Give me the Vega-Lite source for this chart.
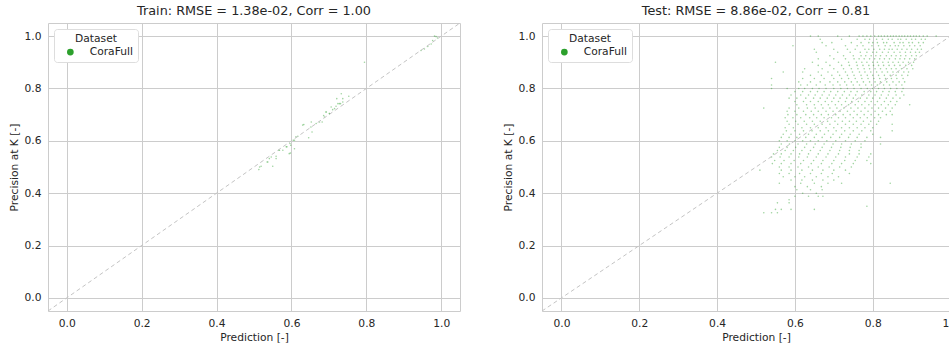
{
"$schema": "https://vega.github.io/schema/vega-lite/v6.json",
"padding": {"left": 7, "top": 4, "right": 0, "bottom": 0},
"background": "white",
"config": {
  "font": "DejaVu Sans",
  "view": {"stroke": "#cccccc", "strokeWidth": 1},
  "axis": {"grid": true, "gridColor": "#cccccc", "gridWidth": 1, "domain": false, "ticks": false, "labelFont": "DejaVu Sans", "labelFontSize": 10.7, "labelColor": "#262626", "titleFont": "DejaVu Sans", "titleFontSize": 10.7, "titleFontWeight": "normal", "titleColor": "#262626", "labelPadding": 7, "titlePadding": 5},
  "title": {"font": "DejaVu Sans", "fontSize": 12.8, "fontWeight": "normal", "color": "#262626", "offset": 5},
  "legend": {"orient": "top-left", "offset": 6, "strokeColor": "#dddddd", "fillColor": "white", "padding": 5, "cornerRadius": 3, "titleFont": "DejaVu Sans", "labelFont": "DejaVu Sans", "titleFontWeight": "normal", "titleFontSize": 10.7, "labelFontSize": 10.7, "titleColor": "#262626", "labelColor": "#262626", "symbolType": "circle", "symbolSize": 45, "symbolOpacity": 1, "titleAnchor": "middle", "labelOffset": 14, "symbolOffset": 6, "titlePadding": 2},
  "concat": {"spacing": 40}
},
"resolve": {"scale": {"color": "independent"}, "legend": {"color": "independent"}},
"hconcat": [
{
  "width": 412, "height": 288,
  "title": "Train: RMSE = 1.38e-02, Corr = 1.00",
  "layer": [
    {
      "data": {"values": [
{"x":0.513,"y":0.49},{"x":0.515,"y":0.5},{"x":0.519,"y":0.503},{"x":0.535,"y":0.519},{"x":0.537,"y":0.519},{"x":0.541,"y":0.532},{"x":0.546,"y":0.538},{"x":0.55,"y":0.503},{"x":0.559,"y":0.541},{"x":0.559,"y":0.532},{"x":0.566,"y":0.564},{"x":0.568,"y":0.564},{"x":0.577,"y":0.564},{"x":0.586,"y":0.577},{"x":0.588,"y":0.577},{"x":0.594,"y":0.551},{"x":0.597,"y":0.553},{"x":0.596,"y":0.59},{"x":0.598,"y":0.583},{"x":0.605,"y":0.602},{"x":0.608,"y":0.57},{"x":0.608,"y":0.602},{"x":0.612,"y":0.615},{"x":0.617,"y":0.617},{"x":0.63,"y":0.66},{"x":0.633,"y":0.662},{"x":0.646,"y":0.612},{"x":0.652,"y":0.653},{"x":0.655,"y":0.634},{"x":0.653,"y":0.672},{"x":0.666,"y":0.666},{"x":0.675,"y":0.672},{"x":0.682,"y":0.672},{"x":0.686,"y":0.697},{"x":0.688,"y":0.691},{"x":0.692,"y":0.71},{"x":0.693,"y":0.71},{"x":0.701,"y":0.704},{"x":0.702,"y":0.704},{"x":0.706,"y":0.729},{"x":0.71,"y":0.719},{"x":0.715,"y":0.723},{"x":0.719,"y":0.732},{"x":0.721,"y":0.761},{"x":0.724,"y":0.742},{"x":0.728,"y":0.742},{"x":0.731,"y":0.742},{"x":0.733,"y":0.78},{"x":0.737,"y":0.748},{"x":0.737,"y":0.761},{"x":0.753,"y":0.77},{"x":0.795,"y":0.9},{"x":0.946,"y":0.945},{"x":0.955,"y":0.951},{"x":0.964,"y":0.96},{"x":0.973,"y":0.97},{"x":0.977,"y":0.983},{"x":0.982,"y":1},{"x":0.986,"y":0.998},{"x":0.99,"y":0.993}
      ]},
      "mark": {"type": "circle", "size": 2.5, "opacity": 0.45},
      "encoding": {
        "x": {"field": "x", "type": "quantitative", "scale": {"domain": [-0.05, 1.05], "nice": false, "zero": false}, "axis": {"values": [0, 0.2, 0.4, 0.6, 0.8, 1], "format": ".1f", "title": "Prediction [-]"}},
        "y": {"field": "y", "type": "quantitative", "scale": {"domain": [-0.05, 1.05], "nice": false, "zero": false}, "axis": {"values": [0, 0.2, 0.4, 0.6, 0.8, 1], "format": ".1f", "title": "Precision at K [-]"}},
        "color": {"datum": "CoraFull", "type": "nominal", "scale": {"range": ["#2ca02c"]}, "legend": {"title": "Dataset"}}
      }
    },
    {
      "data": {"values": [{"lo": -0.05, "hi": 1.05}]},
      "mark": {"type": "rule", "color": "#c4c4c4", "strokeDash": [4, 3], "strokeWidth": 1},
      "encoding": {"x": {"field": "lo", "type": "quantitative"}, "y": {"field": "lo", "type": "quantitative"}, "x2": {"field": "hi"}, "y2": {"field": "hi"}}
    }
  ]
},
{
  "width": 428, "height": 288,
  "title": "Test: RMSE = 8.86e-02, Corr = 0.81",
  "layer": [
    {
      "data": {"values": [
{"x":0.64,"y":1},{"x":0.66,"y":1},{"x":0.71,"y":1},{"x":0.74,"y":1},{"x":0.765,"y":1},{"x":0.775,"y":1},{"x":0.785,"y":1},{"x":0.795,"y":1},{"x":0.805,"y":1},{"x":0.815,"y":1},{"x":0.822,"y":1},{"x":0.83,"y":1},{"x":0.838,"y":1},{"x":0.846,"y":1},{"x":0.853,"y":1},{"x":0.86,"y":1},{"x":0.868,"y":1},{"x":0.875,"y":1},{"x":0.882,"y":1},{"x":0.89,"y":1},{"x":0.897,"y":1},{"x":0.905,"y":1},{"x":0.912,"y":1},{"x":0.92,"y":1},{"x":0.93,"y":1},{"x":0.94,"y":1},{"x":0.963,"y":1},
{"x":0.665,"y":0.988},{"x":0.72,"y":0.988},{"x":0.76,"y":0.988},{"x":0.78,"y":0.988},{"x":0.792,"y":0.988},{"x":0.81,"y":0.988},{"x":0.825,"y":0.988},{"x":0.84,"y":0.988},{"x":0.85,"y":0.988},{"x":0.865,"y":0.988},{"x":0.872,"y":0.988},{"x":0.886,"y":0.988},{"x":0.9,"y":0.988},{"x":0.91,"y":0.988},{"x":0.925,"y":0.988},{"x":0.935,"y":0.988},
{"x":0.67,"y":0.975},{"x":0.695,"y":0.975},{"x":0.745,"y":0.975},{"x":0.77,"y":0.975},{"x":0.79,"y":0.975},{"x":0.8,"y":0.975},{"x":0.812,"y":0.975},{"x":0.828,"y":0.975},{"x":0.836,"y":0.975},{"x":0.855,"y":0.975},{"x":0.87,"y":0.975},{"x":0.878,"y":0.975},{"x":0.893,"y":0.975},{"x":0.902,"y":0.975},{"x":0.918,"y":0.975},{"x":0.93,"y":0.975},
{"x":0.595,"y":0.963},{"x":0.68,"y":0.963},{"x":0.73,"y":0.963},{"x":0.76,"y":0.963},{"x":0.775,"y":0.963},{"x":0.798,"y":0.963},{"x":0.815,"y":0.963},{"x":0.832,"y":0.963},{"x":0.845,"y":0.963},{"x":0.858,"y":0.963},{"x":0.866,"y":0.963},{"x":0.88,"y":0.963},{"x":0.895,"y":0.963},{"x":0.908,"y":0.963},{"x":0.922,"y":0.963},
{"x":0.65,"y":0.95},{"x":0.7,"y":0.95},{"x":0.735,"y":0.95},{"x":0.755,"y":0.95},{"x":0.78,"y":0.95},{"x":0.79,"y":0.95},{"x":0.803,"y":0.95},{"x":0.818,"y":0.95},{"x":0.83,"y":0.95},{"x":0.842,"y":0.95},{"x":0.85,"y":0.95},{"x":0.863,"y":0.95},{"x":0.875,"y":0.95},{"x":0.888,"y":0.95},{"x":0.9,"y":0.95},{"x":0.915,"y":0.95},{"x":0.925,"y":0.95},
{"x":0.655,"y":0.938},{"x":0.71,"y":0.938},{"x":0.742,"y":0.938},{"x":0.768,"y":0.938},{"x":0.785,"y":0.938},{"x":0.8,"y":0.938},{"x":0.81,"y":0.938},{"x":0.825,"y":0.938},{"x":0.84,"y":0.938},{"x":0.855,"y":0.938},{"x":0.87,"y":0.938},{"x":0.884,"y":0.938},{"x":0.897,"y":0.938},{"x":0.91,"y":0.938},{"x":0.92,"y":0.938},
{"x":0.69,"y":0.925},{"x":0.725,"y":0.925},{"x":0.75,"y":0.925},{"x":0.77,"y":0.925},{"x":0.782,"y":0.925},{"x":0.796,"y":0.925},{"x":0.808,"y":0.925},{"x":0.82,"y":0.925},{"x":0.835,"y":0.925},{"x":0.848,"y":0.925},{"x":0.86,"y":0.925},{"x":0.872,"y":0.925},{"x":0.885,"y":0.925},{"x":0.9,"y":0.925},{"x":0.912,"y":0.925},
{"x":0.66,"y":0.913},{"x":0.7,"y":0.913},{"x":0.73,"y":0.913},{"x":0.752,"y":0.913},{"x":0.765,"y":0.913},{"x":0.778,"y":0.913},{"x":0.792,"y":0.913},{"x":0.805,"y":0.913},{"x":0.818,"y":0.913},{"x":0.83,"y":0.913},{"x":0.843,"y":0.913},{"x":0.858,"y":0.913},{"x":0.87,"y":0.913},{"x":0.882,"y":0.913},{"x":0.895,"y":0.913},{"x":0.908,"y":0.913},
{"x":0.55,"y":0.9},{"x":0.645,"y":0.9},{"x":0.68,"y":0.9},{"x":0.712,"y":0.9},{"x":0.738,"y":0.9},{"x":0.758,"y":0.9},{"x":0.772,"y":0.9},{"x":0.785,"y":0.9},{"x":0.8,"y":0.9},{"x":0.812,"y":0.9},{"x":0.826,"y":0.9},{"x":0.84,"y":0.9},{"x":0.852,"y":0.9},{"x":0.866,"y":0.9},{"x":0.878,"y":0.9},{"x":0.892,"y":0.9},{"x":0.905,"y":0.9},
{"x":0.66,"y":0.888},{"x":0.69,"y":0.888},{"x":0.72,"y":0.888},{"x":0.74,"y":0.888},{"x":0.76,"y":0.888},{"x":0.775,"y":0.888},{"x":0.79,"y":0.888},{"x":0.802,"y":0.888},{"x":0.815,"y":0.888},{"x":0.828,"y":0.888},{"x":0.842,"y":0.888},{"x":0.856,"y":0.888},{"x":0.87,"y":0.888},{"x":0.885,"y":0.888},{"x":0.9,"y":0.888},
{"x":0.625,"y":0.875},{"x":0.67,"y":0.875},{"x":0.7,"y":0.875},{"x":0.725,"y":0.875},{"x":0.745,"y":0.875},{"x":0.762,"y":0.875},{"x":0.778,"y":0.875},{"x":0.792,"y":0.875},{"x":0.806,"y":0.875},{"x":0.82,"y":0.875},{"x":0.835,"y":0.875},{"x":0.848,"y":0.875},{"x":0.86,"y":0.875},{"x":0.874,"y":0.875},{"x":0.888,"y":0.875},{"x":0.903,"y":0.875},
{"x":0.57,"y":0.863},{"x":0.62,"y":0.863},{"x":0.66,"y":0.863},{"x":0.685,"y":0.863},{"x":0.71,"y":0.863},{"x":0.73,"y":0.863},{"x":0.748,"y":0.863},{"x":0.766,"y":0.863},{"x":0.78,"y":0.863},{"x":0.795,"y":0.863},{"x":0.81,"y":0.863},{"x":0.824,"y":0.863},{"x":0.838,"y":0.863},{"x":0.852,"y":0.863},{"x":0.866,"y":0.863},{"x":0.88,"y":0.863},{"x":0.892,"y":0.863},
{"x":0.64,"y":0.85},{"x":0.668,"y":0.85},{"x":0.695,"y":0.85},{"x":0.715,"y":0.85},{"x":0.735,"y":0.85},{"x":0.752,"y":0.85},{"x":0.77,"y":0.85},{"x":0.786,"y":0.85},{"x":0.8,"y":0.85},{"x":0.815,"y":0.85},{"x":0.83,"y":0.85},{"x":0.845,"y":0.85},{"x":0.86,"y":0.85},{"x":0.875,"y":0.85},{"x":0.89,"y":0.85},
{"x":0.54,"y":0.838},{"x":0.62,"y":0.838},{"x":0.65,"y":0.838},{"x":0.675,"y":0.838},{"x":0.7,"y":0.838},{"x":0.72,"y":0.838},{"x":0.738,"y":0.838},{"x":0.755,"y":0.838},{"x":0.772,"y":0.838},{"x":0.788,"y":0.838},{"x":0.803,"y":0.838},{"x":0.818,"y":0.838},{"x":0.833,"y":0.838},{"x":0.848,"y":0.838},{"x":0.862,"y":0.838},{"x":0.878,"y":0.838},
{"x":0.61,"y":0.825},{"x":0.64,"y":0.825},{"x":0.665,"y":0.825},{"x":0.69,"y":0.825},{"x":0.71,"y":0.825},{"x":0.728,"y":0.825},{"x":0.745,"y":0.825},{"x":0.76,"y":0.825},{"x":0.776,"y":0.825},{"x":0.792,"y":0.825},{"x":0.806,"y":0.825},{"x":0.82,"y":0.825},{"x":0.836,"y":0.825},{"x":0.852,"y":0.825},{"x":0.868,"y":0.825},{"x":0.882,"y":0.825},
{"x":0.54,"y":0.813},{"x":0.615,"y":0.813},{"x":0.632,"y":0.813},{"x":0.655,"y":0.813},{"x":0.678,"y":0.813},{"x":0.698,"y":0.813},{"x":0.716,"y":0.813},{"x":0.733,"y":0.813},{"x":0.75,"y":0.813},{"x":0.766,"y":0.813},{"x":0.782,"y":0.813},{"x":0.797,"y":0.813},{"x":0.812,"y":0.813},{"x":0.828,"y":0.813},{"x":0.843,"y":0.813},{"x":0.86,"y":0.813},{"x":0.875,"y":0.813},
{"x":0.54,"y":0.8},{"x":0.58,"y":0.8},{"x":0.61,"y":0.8},{"x":0.625,"y":0.8},{"x":0.645,"y":0.8},{"x":0.662,"y":0.8},{"x":0.68,"y":0.8},{"x":0.7,"y":0.8},{"x":0.718,"y":0.8},{"x":0.735,"y":0.8},{"x":0.752,"y":0.8},{"x":0.77,"y":0.8},{"x":0.786,"y":0.8},{"x":0.8,"y":0.8},{"x":0.815,"y":0.8},{"x":0.83,"y":0.8},{"x":0.846,"y":0.8},{"x":0.862,"y":0.8},{"x":0.878,"y":0.8},
{"x":0.6,"y":0.788},{"x":0.62,"y":0.788},{"x":0.64,"y":0.788},{"x":0.658,"y":0.788},{"x":0.675,"y":0.788},{"x":0.692,"y":0.788},{"x":0.71,"y":0.788},{"x":0.727,"y":0.788},{"x":0.744,"y":0.788},{"x":0.76,"y":0.788},{"x":0.778,"y":0.788},{"x":0.795,"y":0.788},{"x":0.81,"y":0.788},{"x":0.826,"y":0.788},{"x":0.842,"y":0.788},{"x":0.858,"y":0.788},{"x":0.875,"y":0.788},
{"x":0.59,"y":0.775},{"x":0.615,"y":0.775},{"x":0.635,"y":0.775},{"x":0.652,"y":0.775},{"x":0.67,"y":0.775},{"x":0.688,"y":0.775},{"x":0.705,"y":0.775},{"x":0.722,"y":0.775},{"x":0.74,"y":0.775},{"x":0.756,"y":0.775},{"x":0.772,"y":0.775},{"x":0.79,"y":0.775},{"x":0.806,"y":0.775},{"x":0.822,"y":0.775},{"x":0.84,"y":0.775},{"x":0.86,"y":0.775},{"x":0.88,"y":0.775},
{"x":0.585,"y":0.763},{"x":0.605,"y":0.763},{"x":0.628,"y":0.763},{"x":0.648,"y":0.763},{"x":0.665,"y":0.763},{"x":0.683,"y":0.763},{"x":0.7,"y":0.763},{"x":0.716,"y":0.763},{"x":0.733,"y":0.763},{"x":0.75,"y":0.763},{"x":0.768,"y":0.763},{"x":0.785,"y":0.763},{"x":0.8,"y":0.763},{"x":0.818,"y":0.763},{"x":0.835,"y":0.763},{"x":0.852,"y":0.763},{"x":0.87,"y":0.763},
{"x":0.6,"y":0.75},{"x":0.622,"y":0.75},{"x":0.64,"y":0.75},{"x":0.66,"y":0.75},{"x":0.678,"y":0.75},{"x":0.695,"y":0.75},{"x":0.712,"y":0.75},{"x":0.73,"y":0.75},{"x":0.746,"y":0.75},{"x":0.763,"y":0.75},{"x":0.78,"y":0.75},{"x":0.796,"y":0.75},{"x":0.812,"y":0.75},{"x":0.83,"y":0.75},{"x":0.846,"y":0.75},{"x":0.862,"y":0.75},
{"x":0.605,"y":0.738},{"x":0.63,"y":0.738},{"x":0.65,"y":0.738},{"x":0.668,"y":0.738},{"x":0.686,"y":0.738},{"x":0.704,"y":0.738},{"x":0.72,"y":0.738},{"x":0.738,"y":0.738},{"x":0.755,"y":0.738},{"x":0.772,"y":0.738},{"x":0.79,"y":0.738},{"x":0.806,"y":0.738},{"x":0.822,"y":0.738},{"x":0.84,"y":0.738},{"x":0.858,"y":0.738},{"x":0.895,"y":0.738},
{"x":0.52,"y":0.725},{"x":0.585,"y":0.725},{"x":0.61,"y":0.725},{"x":0.632,"y":0.725},{"x":0.652,"y":0.725},{"x":0.672,"y":0.725},{"x":0.69,"y":0.725},{"x":0.708,"y":0.725},{"x":0.726,"y":0.725},{"x":0.744,"y":0.725},{"x":0.762,"y":0.725},{"x":0.78,"y":0.725},{"x":0.798,"y":0.725},{"x":0.815,"y":0.725},{"x":0.833,"y":0.725},{"x":0.85,"y":0.725},
{"x":0.58,"y":0.713},{"x":0.6,"y":0.713},{"x":0.622,"y":0.713},{"x":0.642,"y":0.713},{"x":0.66,"y":0.713},{"x":0.68,"y":0.713},{"x":0.698,"y":0.713},{"x":0.716,"y":0.713},{"x":0.735,"y":0.713},{"x":0.752,"y":0.713},{"x":0.77,"y":0.713},{"x":0.788,"y":0.713},{"x":0.806,"y":0.713},{"x":0.825,"y":0.713},{"x":0.845,"y":0.713},
{"x":0.582,"y":0.7},{"x":0.605,"y":0.7},{"x":0.628,"y":0.7},{"x":0.648,"y":0.7},{"x":0.668,"y":0.7},{"x":0.686,"y":0.7},{"x":0.705,"y":0.7},{"x":0.724,"y":0.7},{"x":0.742,"y":0.7},{"x":0.76,"y":0.7},{"x":0.778,"y":0.7},{"x":0.796,"y":0.7},{"x":0.815,"y":0.7},{"x":0.835,"y":0.7},{"x":0.85,"y":0.7},
{"x":0.575,"y":0.688},{"x":0.595,"y":0.688},{"x":0.615,"y":0.688},{"x":0.638,"y":0.688},{"x":0.656,"y":0.688},{"x":0.675,"y":0.688},{"x":0.694,"y":0.688},{"x":0.712,"y":0.688},{"x":0.73,"y":0.688},{"x":0.75,"y":0.688},{"x":0.768,"y":0.688},{"x":0.786,"y":0.688},{"x":0.805,"y":0.688},{"x":0.82,"y":0.688},
{"x":0.58,"y":0.675},{"x":0.602,"y":0.675},{"x":0.624,"y":0.675},{"x":0.645,"y":0.675},{"x":0.665,"y":0.675},{"x":0.684,"y":0.675},{"x":0.703,"y":0.675},{"x":0.722,"y":0.675},{"x":0.74,"y":0.675},{"x":0.758,"y":0.675},{"x":0.776,"y":0.675},{"x":0.795,"y":0.675},{"x":0.815,"y":0.675},
{"x":0.585,"y":0.663},{"x":0.608,"y":0.663},{"x":0.63,"y":0.663},{"x":0.65,"y":0.663},{"x":0.67,"y":0.663},{"x":0.69,"y":0.663},{"x":0.71,"y":0.663},{"x":0.73,"y":0.663},{"x":0.75,"y":0.663},{"x":0.77,"y":0.663},{"x":0.79,"y":0.663},{"x":0.81,"y":0.663},{"x":0.85,"y":0.663},
{"x":0.575,"y":0.65},{"x":0.596,"y":0.65},{"x":0.618,"y":0.65},{"x":0.64,"y":0.65},{"x":0.66,"y":0.65},{"x":0.68,"y":0.65},{"x":0.7,"y":0.65},{"x":0.72,"y":0.65},{"x":0.74,"y":0.65},{"x":0.76,"y":0.65},{"x":0.78,"y":0.65},{"x":0.8,"y":0.65},
{"x":0.578,"y":0.638},{"x":0.6,"y":0.638},{"x":0.622,"y":0.638},{"x":0.644,"y":0.638},{"x":0.665,"y":0.638},{"x":0.686,"y":0.638},{"x":0.706,"y":0.638},{"x":0.728,"y":0.638},{"x":0.75,"y":0.638},{"x":0.772,"y":0.638},{"x":0.795,"y":0.638},{"x":0.85,"y":0.638},
{"x":0.57,"y":0.625},{"x":0.59,"y":0.625},{"x":0.612,"y":0.625},{"x":0.635,"y":0.625},{"x":0.655,"y":0.625},{"x":0.676,"y":0.625},{"x":0.698,"y":0.625},{"x":0.72,"y":0.625},{"x":0.742,"y":0.625},{"x":0.765,"y":0.625},{"x":0.8,"y":0.625},
{"x":0.565,"y":0.613},{"x":0.585,"y":0.613},{"x":0.605,"y":0.613},{"x":0.628,"y":0.613},{"x":0.65,"y":0.613},{"x":0.67,"y":0.613},{"x":0.692,"y":0.613},{"x":0.715,"y":0.613},{"x":0.738,"y":0.613},{"x":0.76,"y":0.613},{"x":0.785,"y":0.613},{"x":0.82,"y":0.613},
{"x":0.56,"y":0.6},{"x":0.58,"y":0.6},{"x":0.6,"y":0.6},{"x":0.62,"y":0.6},{"x":0.64,"y":0.6},{"x":0.66,"y":0.6},{"x":0.682,"y":0.6},{"x":0.705,"y":0.6},{"x":0.73,"y":0.6},{"x":0.755,"y":0.6},{"x":0.78,"y":0.6},
{"x":0.565,"y":0.588},{"x":0.586,"y":0.588},{"x":0.608,"y":0.588},{"x":0.63,"y":0.588},{"x":0.652,"y":0.588},{"x":0.675,"y":0.588},{"x":0.698,"y":0.588},{"x":0.72,"y":0.588},{"x":0.745,"y":0.588},{"x":0.77,"y":0.588},{"x":0.82,"y":0.588},
{"x":0.56,"y":0.575},{"x":0.58,"y":0.575},{"x":0.602,"y":0.575},{"x":0.625,"y":0.575},{"x":0.648,"y":0.575},{"x":0.67,"y":0.575},{"x":0.694,"y":0.575},{"x":0.718,"y":0.575},{"x":0.742,"y":0.575},{"x":0.77,"y":0.575},
{"x":0.555,"y":0.563},{"x":0.575,"y":0.563},{"x":0.596,"y":0.563},{"x":0.618,"y":0.563},{"x":0.64,"y":0.563},{"x":0.665,"y":0.563},{"x":0.69,"y":0.563},{"x":0.715,"y":0.563},{"x":0.74,"y":0.563},{"x":0.765,"y":0.563},
{"x":0.545,"y":0.55},{"x":0.565,"y":0.55},{"x":0.59,"y":0.55},{"x":0.612,"y":0.55},{"x":0.635,"y":0.55},{"x":0.66,"y":0.55},{"x":0.685,"y":0.55},{"x":0.712,"y":0.55},{"x":0.74,"y":0.55},{"x":0.765,"y":0.55},{"x":0.795,"y":0.55},
{"x":0.54,"y":0.538},{"x":0.562,"y":0.538},{"x":0.585,"y":0.538},{"x":0.61,"y":0.538},{"x":0.632,"y":0.538},{"x":0.655,"y":0.538},{"x":0.68,"y":0.538},{"x":0.705,"y":0.538},{"x":0.73,"y":0.538},{"x":0.76,"y":0.538},{"x":0.79,"y":0.538},
{"x":0.548,"y":0.525},{"x":0.572,"y":0.525},{"x":0.598,"y":0.525},{"x":0.622,"y":0.525},{"x":0.648,"y":0.525},{"x":0.672,"y":0.525},{"x":0.7,"y":0.525},{"x":0.728,"y":0.525},{"x":0.755,"y":0.525},{"x":0.785,"y":0.525},
{"x":0.542,"y":0.513},{"x":0.565,"y":0.513},{"x":0.59,"y":0.513},{"x":0.615,"y":0.513},{"x":0.642,"y":0.513},{"x":0.668,"y":0.513},{"x":0.695,"y":0.513},{"x":0.72,"y":0.513},{"x":0.75,"y":0.513},{"x":0.795,"y":0.513},
{"x":0.56,"y":0.5},{"x":0.585,"y":0.5},{"x":0.608,"y":0.5},{"x":0.635,"y":0.5},{"x":0.66,"y":0.5},{"x":0.688,"y":0.5},{"x":0.715,"y":0.5},{"x":0.745,"y":0.5},
{"x":0.51,"y":0.488},{"x":0.565,"y":0.488},{"x":0.59,"y":0.488},{"x":0.618,"y":0.488},{"x":0.645,"y":0.488},{"x":0.672,"y":0.488},{"x":0.7,"y":0.488},{"x":0.73,"y":0.488},
{"x":0.56,"y":0.475},{"x":0.585,"y":0.475},{"x":0.612,"y":0.475},{"x":0.64,"y":0.475},{"x":0.668,"y":0.475},{"x":0.696,"y":0.475},{"x":0.74,"y":0.475},
{"x":0.57,"y":0.463},{"x":0.6,"y":0.463},{"x":0.625,"y":0.463},{"x":0.655,"y":0.463},{"x":0.685,"y":0.463},{"x":0.712,"y":0.463},
{"x":0.59,"y":0.45},{"x":0.618,"y":0.45},{"x":0.645,"y":0.45},{"x":0.672,"y":0.45},{"x":0.7,"y":0.45},
{"x":0.56,"y":0.438},{"x":0.615,"y":0.438},{"x":0.65,"y":0.438},{"x":0.685,"y":0.438},{"x":0.72,"y":0.438},{"x":0.845,"y":0.438},
{"x":0.6,"y":0.425},{"x":0.632,"y":0.425},{"x":0.668,"y":0.425},
{"x":0.605,"y":0.413},{"x":0.64,"y":0.413},{"x":0.67,"y":0.413},
{"x":0.62,"y":0.4},{"x":0.655,"y":0.4},
{"x":0.6,"y":0.388},{"x":0.635,"y":0.388},{"x":0.66,"y":0.388},{"x":0.672,"y":0.388},
{"x":0.585,"y":0.375},
{"x":0.555,"y":0.363},{"x":0.585,"y":0.363},
{"x":0.785,"y":0.35},
{"x":0.55,"y":0.338},{"x":0.565,"y":0.338},{"x":0.59,"y":0.338},{"x":0.65,"y":0.338},
{"x":0.52,"y":0.325},{"x":0.54,"y":0.325},{"x":0.555,"y":0.325}
      ]},
      "mark": {"type": "circle", "size": 2.5, "opacity": 0.45},
      "encoding": {
        "x": {"field": "x", "type": "quantitative", "scale": {"domain": [-0.05, 1.05], "nice": false, "zero": false}, "axis": {"values": [0, 0.2, 0.4, 0.6, 0.8, 1], "format": ".1f", "title": "Prediction [-]"}},
        "y": {"field": "y", "type": "quantitative", "scale": {"domain": [-0.05, 1.05], "nice": false, "zero": false}, "axis": {"values": [0, 0.2, 0.4, 0.6, 0.8, 1], "format": ".1f", "title": "Precision at K [-]"}},
        "color": {"datum": "CoraFull", "type": "nominal", "scale": {"range": ["#2ca02c"]}, "legend": {"title": "Dataset"}}
      }
    },
    {
      "data": {"values": [{"lo": -0.05, "hi": 1.05}]},
      "mark": {"type": "rule", "color": "#c4c4c4", "strokeDash": [4, 3], "strokeWidth": 1},
      "encoding": {"x": {"field": "lo", "type": "quantitative"}, "y": {"field": "lo", "type": "quantitative"}, "x2": {"field": "hi"}, "y2": {"field": "hi"}}
    }
  ]
}
]
}
